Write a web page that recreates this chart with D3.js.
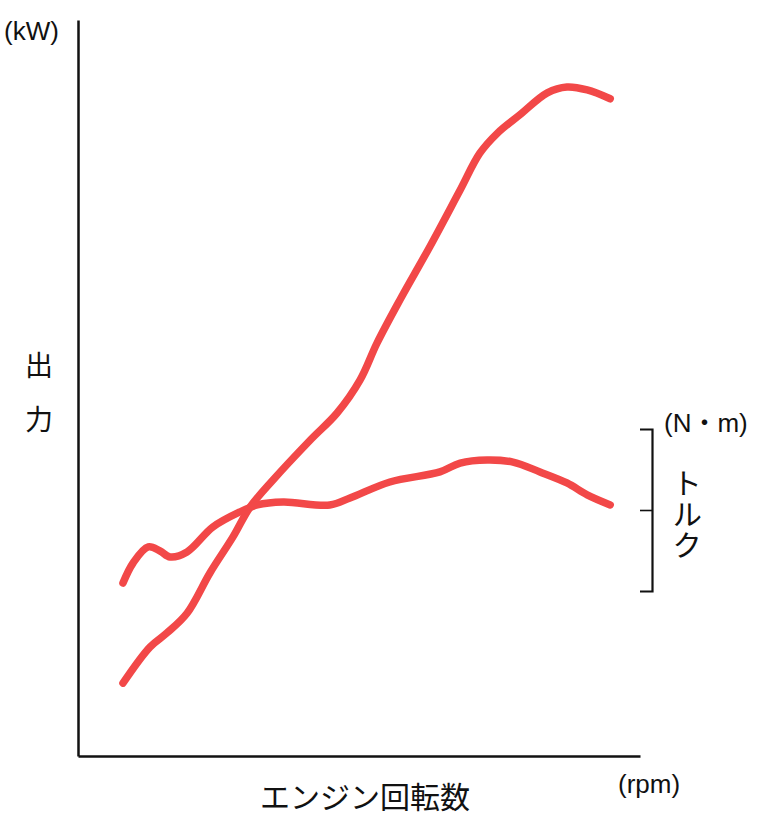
<!DOCTYPE html>
<html>
<head>
<meta charset="utf-8">
<script src="https://cdn.jsdelivr.net/npm/d3@7"></script>
<style>
  body { margin: 0; background: #fff; }
  svg text { font-family: "Liberation Sans", "Noto Sans CJK JP", sans-serif; fill: #111; }
  svg text.jp { font-family: "Noto Sans CJK JP", sans-serif; }
</style>
</head>
<body>
<svg id="chart" width="760" height="824"></svg>
<script>
// rpm on a relative 0-100 scale, outputs on relative scales
const power_rpm = [8.0, 12.8, 15.8, 19.4, 23.5, 27.6, 30.6, 34.7, 41.3, 46.1, 50.2, 53.2, 57.3, 62.6, 68.0, 71.5, 74.6, 78.6, 83.5, 87.0, 90.6, 94.7];
const power_kw = [9.9, 14.8, 16.7, 19.4, 24.9, 29.8, 33.8, 37.5, 42.9, 46.6, 51.1, 56.1, 62.0, 69.2, 76.9, 81.9, 84.6, 87.1, 90.1, 90.9, 90.5, 89.3];

const torque_rpm = [8.0, 9.8, 12.5, 14.6, 16.4, 19.4, 24.0, 28.8, 31.9, 36.5, 44.8, 48.4, 55.5, 64.4, 68.0, 72.8, 77.4, 82.2, 87.0, 90.6, 94.7];
const torque_nm = [4.9, 17.3, 27.2, 24.7, 21.0, 24.1, 39.5, 48.8, 53.1, 54.9, 53.1, 57.4, 67.3, 73.5, 79.0, 80.9, 79.6, 73.5, 66.7, 59.3, 53.1];

const torque_ticks = [0, 50, 100];

const svg = d3.select("svg#chart");

var x = d3.scaleLinear().domain([0, 100]).range([78, 640]);
var y_power = d3.scaleLinear().domain([0, 100]).range([756, 20]);
var y_torque = d3.scaleLinear().domain([0, 100]).range([591, 429]);

// axes (no ticks, just the lines)
svg.append("g")
    .attr("transform", "translate(78,0)")
    .call(d3.axisLeft(y_power).tickValues([]).tickSizeOuter(0))
    .call(g => g.select(".domain").attr("stroke", "#111").attr("stroke-width", 2.5));
svg.append("g")
    .attr("transform", "translate(0,756)")
    .call(d3.axisBottom(x).tickValues([]).tickSizeOuter(0))
    .call(g => g.select(".domain").attr("stroke", "#111").attr("stroke-width", 2.5));

// torque bracket
svg.append("g")
    .attr("transform", "translate(652,0)")
    .call(d3.axisLeft(y_torque).tickValues([torque_ticks[1]]).tickSize(12).tickSizeOuter(12).tickFormat(""))
    .call(g => g.select(".domain").attr("stroke", "#111").attr("stroke-width", 2.2))
    .call(g => g.selectAll(".tick line").attr("stroke", "#111").attr("stroke-width", 1.6));

const line_style = (path) => path
    .attr("fill", "none")
    .attr("stroke", "#f24848")
    .attr("stroke-width", 7.5)
    .attr("stroke-linecap", "round")
    .attr("stroke-linejoin", "round");

svg.append("path")
    .datum(power_rpm.map((r, i) => [r, power_kw[i]]))
    .attr("d", d3.line().x(d => x(d[0])).y(d => y_power(d[1])).curve(d3.curveCatmullRom))
    .call(line_style);

svg.append("path")
    .datum(torque_rpm.map((r, i) => [r, torque_nm[i]]))
    .attr("d", d3.line().x(d => x(d[0])).y(d => y_torque(d[1])).curve(d3.curveCatmullRom))
    .call(line_style);

// labels
svg.append("text").attr("x", 4).attr("y", 40).style("font-size", "26px").text("(kW)");

svg.append("text").attr("class", "jp").attr("x", 39).attr("y", 364)
    .attr("text-anchor", "middle").attr("dominant-baseline", "central")
    .style("font-size", "28px").text("出");
svg.append("text").attr("class", "jp").attr("x", 39).attr("y", 418)
    .attr("text-anchor", "middle").attr("dominant-baseline", "central")
    .style("font-size", "28px").text("力");

svg.append("text").attr("class", "jp").attr("x", 365).attr("y", 795)
    .attr("text-anchor", "middle").attr("dominant-baseline", "central")
    .style("font-size", "30px").text("エンジン回転数");
svg.append("text").attr("x", 618).attr("y", 793).style("font-size", "26px").text("(rpm)");

svg.append("text").attr("x", 664).attr("y", 432).style("font-size", "26px").text("(N・m)");

// vertical torque label
svg.append("text")
    .attr("class", "jp")
    .attr("x", 687)
    .attr("y", 514)
    .attr("text-anchor", "middle")
    .style("writing-mode", "vertical-rl")
    .style("text-orientation", "upright")
    .style("letter-spacing", "1px")
    .style("font-size", "30px")
    .text("トルク");
</script>
</body>
</html>
